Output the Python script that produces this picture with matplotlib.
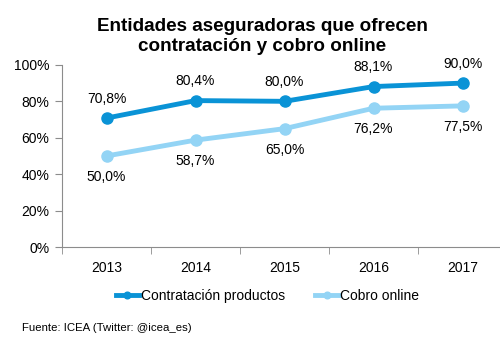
import matplotlib.pyplot as plt
from matplotlib.ticker import FixedLocator

plt.rcParams['font.family'] = ['Liberation Sans', 'DejaVu Sans']

anios = ['2013', '2014', '2015', '2016', '2017']
contratacion = [70.8, 80.4, 80.0, 88.1, 90.0]
cobro = [50.0, 58.7, 65.0, 76.2, 77.5]

azul = '#0a93d6'
celeste = '#93d4f5'
gris = '#8c8c8c'

fig = plt.figure(figsize=(5, 3.47), dpi=100)
ax = fig.add_axes([0.124, 0.288, 0.89, 0.525])

x = range(len(anios))
ax.plot(x, contratacion, color=azul, lw=3.5, marker='o', ms=8, label='Contratación productos', zorder=3)
ax.plot(x, cobro, color=celeste, lw=3.5, marker='o', ms=8, label='Cobro online', zorder=2)

for i, v in enumerate(contratacion):
    ax.annotate(f'{v:.1f}%'.replace('.', ','), (i, v), xytext=(0, 9), textcoords='offset points',
                ha='center', va='bottom', fontsize=10)
for i, v in enumerate(cobro):
    ax.annotate(f'{v:.1f}%'.replace('.', ','), (i, v), xytext=(0, -10), textcoords='offset points',
                ha='center', va='top', fontsize=10)

ax.set_xlim(-0.5, 4.5)
ax.set_ylim(0, 100)
ax.set_yticks(range(0, 101, 20))
ax.set_yticklabels([f'{t}%' for t in range(0, 101, 20)], fontsize=10)
ax.set_xticks(list(x))
ax.set_xticklabels(anios, fontsize=10)
ax.xaxis.set_minor_locator(FixedLocator([-0.5, 0.5, 1.5, 2.5, 3.5, 4.5]))
ax.tick_params(axis='x', which='major', length=0, pad=10)
ax.tick_params(axis='x', which='minor', length=5, color=gris)
ax.tick_params(axis='y', length=5, color=gris, pad=4)

for s in ['top', 'right']:
    ax.spines[s].set_visible(False)
for s in ['left', 'bottom']:
    ax.spines[s].set_color(gris)

fig.text(0.525, 0.948, 'Entidades aseguradoras que ofrecen\ncontratación y cobro online',
         ha='center', va='top', fontsize=13.6, fontweight='bold', linespacing=1.2)

fig.legend(loc='center', bbox_to_anchor=(0.535, 0.148), ncol=2, frameon=False, fontsize=10,
           handlelength=1.7, handletextpad=0.1, columnspacing=2.2, markerscale=0.6)

fig.text(0.044, 0.055, 'Fuente: ICEA (Twitter: @icea_es)', fontsize=8.2, ha='left', va='center')

fig.savefig('out.png', dpi=100)
